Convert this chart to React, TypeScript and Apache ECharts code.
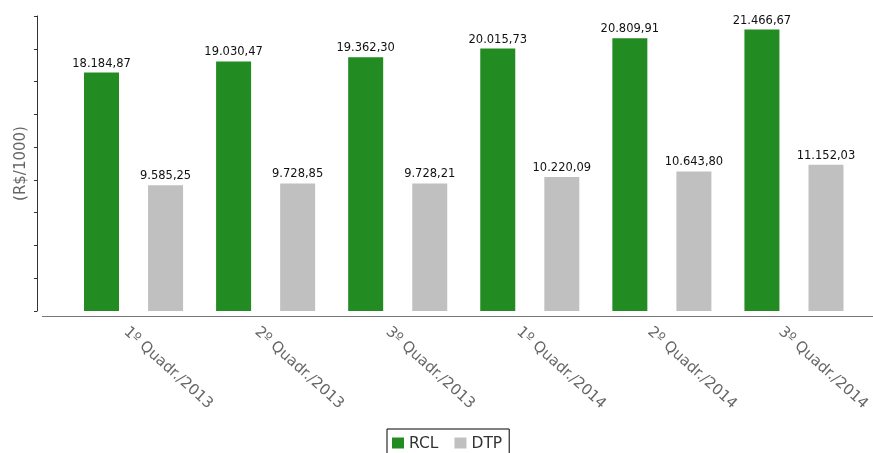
import React, { useEffect, useRef } from "react";
import * as echarts from "echarts";

const categories = [
  "1º Quadr./2013",
  "2º Quadr./2013",
  "3º Quadr./2013",
  "1º Quadr./2014",
  "2º Quadr./2014",
  "3º Quadr./2014",
];
const rclValues = [18184.87, 19030.47, 19362.3, 20015.73, 20809.91, 21466.67];
const dtpValues = [9585.25, 9728.85, 9728.21, 10220.09, 10643.8, 11152.03];
const seriesNames = ["RCL", "DTP"];
const yAxisName = "(R$/1000)";

const fmt = (v: number) => {
  const [i, d] = v.toFixed(2).split(".");
  return i.replace(/\B(?=(\d{3})+(?!\d))/g, ".") + "," + d;
};

const FONT = "DejaVu Sans, Verdana, sans-serif";

export default function App() {
  const ref = useRef<HTMLDivElement>(null);
  useEffect(() => {
    if (!ref.current) return;
    const chart = echarts.init(ref.current, null, { renderer: "svg" });
    const valueLabel = {
      show: true,
      position: "top",
      distance: 4,
      color: "#111",
      fontSize: 11.5,
      fontFamily: FONT,
      formatter: (p: any) => fmt(p.value),
    };
    chart.setOption({
      animation: false,
      grid: [
        { left: 67.5, right: 13, top: 16, bottom: 142 },
        { left: 61, right: 19.5, top: 16, bottom: 142 },
      ],
      graphic: [
        {
          type: "line",
          shape: { x1: 42, y1: 316.5, x2: 873, y2: 316.5 },
          style: { stroke: "#777", lineWidth: 1 },
          silent: true,
        },
      ],
      legend: {
        left: 387,
        top: 429,
        data: seriesNames,
        icon: "rect",
        itemWidth: 12,
        itemHeight: 11,
        itemGap: 16,
        borderColor: "#000",
        borderWidth: 1,
        borderRadius: 0,
        padding: [6, 7, 6, 5],
        textStyle: { fontSize: 15.5, color: "#333", fontFamily: FONT },
      },
      xAxis: [
        {
          type: "category",
          data: categories,
          gridIndex: 0,
          axisLine: { show: false },
          axisTick: { show: false },
          axisLabel: { show: false },
        },
        {
          type: "category",
          data: categories,
          gridIndex: 1,
          offset: 5,
          axisLine: { show: false },
          axisTick: { show: false },
          axisLabel: {
            rotate: -42,
            margin: 13,
            color: "#666",
            fontSize: 15,
            fontFamily: FONT,
            interval: 0,
          },
        },
      ],
      yAxis: [
        {
          type: "value",
          gridIndex: 0,
          min: 0,
          max: 22500,
          interval: 2500,
          offset: 30.5,
          name: yAxisName,
          nameLocation: "middle",
          nameRotate: 90,
          nameGap: 10,
          nameTextStyle: { color: "#666", fontSize: 15, fontFamily: FONT },
          axisLine: { show: true, lineStyle: { color: "#333", width: 1 } },
          axisTick: { show: true, length: 3, lineStyle: { color: "#333" } },
          axisLabel: { show: false },
          splitLine: { show: false },
        },
        {
          type: "value",
          gridIndex: 1,
          min: 0,
          max: 22500,
          show: false,
        },
      ],
      series: [
        {
          name: seriesNames[0],
          type: "bar",
          data: rclValues,
          itemStyle: { color: "#228B22" },
          barGap: "83%",
          barCategoryGap: "25%",
          label: valueLabel,
        },
        {
          name: seriesNames[1],
          type: "bar",
          data: dtpValues,
          itemStyle: { color: "#C0C0C0" },
          label: valueLabel,
        },
      ],
    });
    return () => chart.dispose();
  }, []);
  return (
    <div
      ref={ref}
      style={{ position: "fixed", left: 0, top: 0, width: 873, height: 453 }}
    />
  );
}
